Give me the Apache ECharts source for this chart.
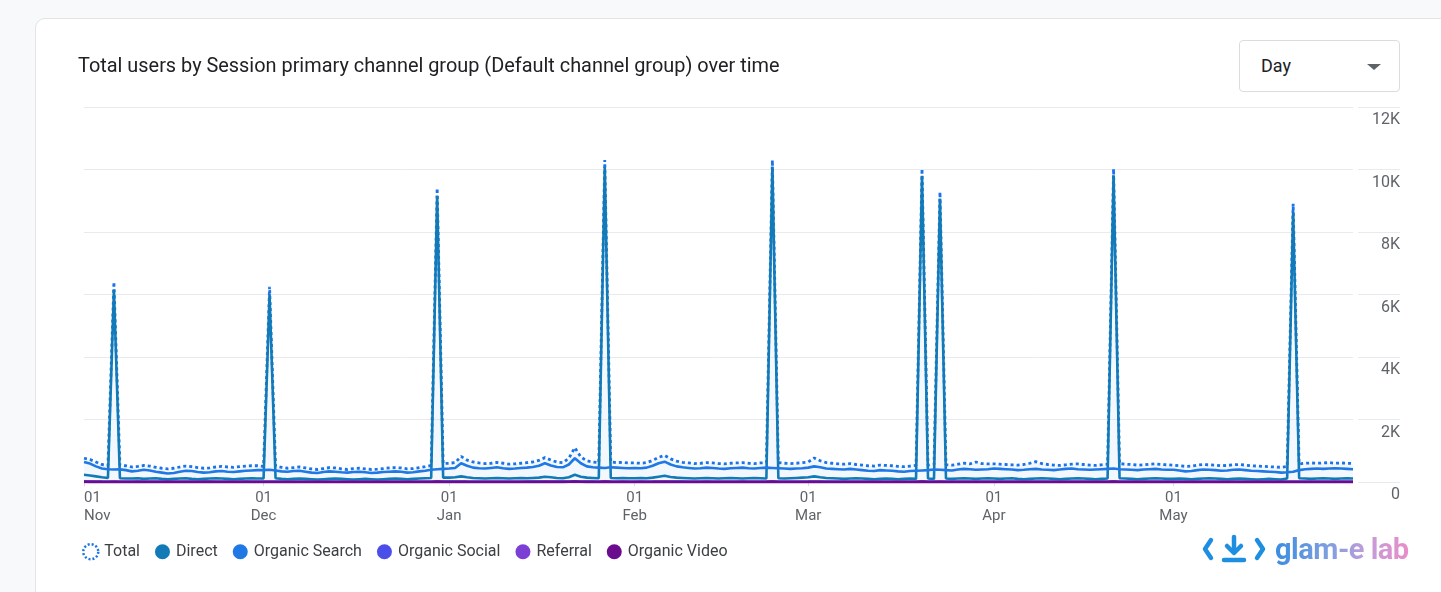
<!DOCTYPE html>
<html>
<head>
<meta charset="utf-8">
<script src="https://cdn.jsdelivr.net/npm/echarts@6/dist/echarts.min.js"></script>
<style>
  html, body { margin: 0; padding: 0; background: #f8f9fa; font-family: Roboto, "Noto Sans", sans-serif; }
  #card {
    position: absolute; left: 35px; top: 18px; width: 1440px; height: 620px;
    background: #fff; border: 1px solid #e3e3e3; border-radius: 10px;
  }
  #grafico { position: absolute; left: 0; top: 0; width: 1441px; height: 592px; }
  #periodo {
    position: absolute; left: 1239px; top: 40px; width: 161px; height: 52px;
    border: 1px solid #dadce0; border-radius: 4px; background: #fff; box-sizing: border-box;
    font-size: 18px; color: #202124; line-height: 50px; padding-left: 21px;
  }
  #periodo .flecha {
    position: absolute; left: 127px; top: 23px; width: 0; height: 0;
    border-left: 7px solid transparent; border-right: 7px solid transparent; border-top: 6px solid #5f6368;
  }
  #logo { position: absolute; left: 1202px; top: 532px; height: 34px; display: flex; align-items: center; }
  #logo .texto {
    font-size: 29px; font-weight: bold; letter-spacing: -0.5px; margin-left: 9px;
    background: linear-gradient(90deg, #3a8de2 0%, #7f9fe0 40%, #c69bd9 70%, #e88ec8 100%);
    -webkit-background-clip: text; background-clip: text; color: transparent;
  }
</style>
</head>
<body>
<div id="card"></div>
<div id="grafico"></div>
<div id="periodo">Day<span class="flecha"></span></div>
<div id="logo">
  <svg width="64" height="32" viewBox="0 0 64 32">
    <g fill="none" stroke="#1e8fe0" stroke-width="4.5" stroke-linecap="round" stroke-linejoin="round">
      <polyline points="9,7 3,16 9,25" />
      <line x1="32" y1="4" x2="32" y2="19" />
      <polyline points="25,13 32,20 39,13" />
      <line x1="22" y1="27" x2="42" y2="27" />
      <polyline points="55,7 61,16 55,25" />
    </g>
  </svg>
  <span class="texto">glam-e lab</span>
</div>

<script>
// daily values, 1 Nov 2023 - 31 May 2024 (one row per month)
const fechaInicio = '2023-11-01'
const meses = ['Jan', 'Feb', 'Mar', 'Apr', 'May', 'Jun', 'Jul', 'Aug', 'Sep', 'Oct', 'Nov', 'Dec']
const canales = ['Total', 'Direct', 'Organic Search', 'Organic Social', 'Referral', 'Organic Video']

const total = [
  760, 720, 640, 560, 530, 6400, 540, 520, 480, 500, 530, 510, 470, 440, 420, 440, 480, 510, 490, 460, 440, 450, 480, 500, 480, 470, 490, 510, 520, 520,
  500, 6250, 510, 470, 440, 460, 480, 450, 420, 400, 430, 460, 450, 420, 400, 430, 440, 420, 400, 410, 430, 450, 460, 450, 420, 430, 460, 490, 530, 9400, 590,
  600, 620, 820, 700, 640, 610, 590, 600, 630, 600, 570, 580, 600, 620, 640, 690, 780, 700, 640, 620, 760, 1100, 800, 680, 640, 620, 10300, 640, 620, 630, 610,
  610, 600, 620, 690, 790, 850, 740, 670, 630, 610, 590, 600, 620, 610, 590, 580, 600, 610, 620, 600, 590, 610, 620, 10300, 620, 600, 590, 600, 620,
  640, 770, 680, 620, 600, 580, 570, 590, 560, 540, 520, 510, 540, 530, 520, 500, 490, 510, 530, 10020, 540, 560, 9280, 550, 540, 570, 600, 580, 640, 590, 580,
  580, 570, 560, 550, 540, 560, 600, 650, 590, 560, 540, 530, 550, 570, 580, 560, 540, 530, 550, 570, 10020, 590, 570, 560, 540, 550, 570, 580, 560, 550,
  540, 520, 500, 510, 540, 560, 550, 540, 520, 530, 550, 560, 540, 520, 510, 500, 490, 480, 470, 500, 8900, 580, 600, 610, 600, 610, 620, 600, 610, 600, 590
]

const direct = [
  230, 210, 180, 150, 130, 6150, 120, 110, 110, 120, 100, 110, 120, 100, 90, 100, 110, 120, 100, 90, 100, 110, 120, 110, 100, 90, 100, 110, 120, 110,
  110, 6000, 120, 100, 90, 100, 110, 100, 90, 80, 90, 100, 110, 100, 90, 80, 90, 100, 90, 80, 90, 100, 110, 100, 90, 100, 110, 120, 130, 9150, 140,
  140, 150, 180, 150, 130, 120, 110, 120, 130, 120, 110, 120, 130, 120, 130, 140, 170, 150, 130, 120, 150, 230, 170, 140, 130, 120, 10080, 130, 120, 130, 120,
  120, 130, 120, 140, 170, 200, 160, 140, 130, 120, 110, 120, 130, 120, 110, 120, 130, 120, 110, 120, 130, 120, 110, 10080, 120, 110, 120, 130, 140,
  150, 180, 150, 130, 120, 110, 100, 110, 120, 110, 100, 90, 100, 110, 100, 90, 100, 110, 100, 9800, 110, 100, 9060, 110, 100, 110, 120, 110, 100, 110, 120,
  110, 100, 110, 120, 100, 90, 100, 110, 120, 110, 100, 90, 100, 110, 120, 110, 100, 90, 100, 110, 9800, 120, 110, 100, 90, 100, 110, 120, 110, 100,
  100, 110, 100, 90, 100, 110, 120, 110, 100, 90, 100, 110, 100, 90, 80, 90, 100, 90, 80, 110, 8640, 120, 110, 100, 110, 120, 110, 100, 110, 120, 110
]

const organicSearch = [
  640, 590, 500, 430, 410, 400, 405, 380, 340, 360, 390, 370, 330, 300, 270, 290, 330, 360, 350, 320, 300, 310, 340, 350, 330, 320, 340, 360, 370, 380,
  380, 390, 370, 340, 330, 350, 360, 330, 300, 290, 320, 340, 330, 310, 300, 320, 330, 310, 290, 300, 320, 330, 340, 330, 300, 310, 340, 360, 390, 410, 420,
  430, 450, 600, 520, 460, 440, 430, 450, 470, 440, 420, 430, 450, 460, 480, 520, 600, 530, 480, 470, 560, 760, 600, 500, 470, 460, 450, 470, 460, 450, 440,
  450, 440, 460, 520, 600, 650, 560, 500, 470, 450, 430, 440, 460, 450, 430, 420, 440, 450, 460, 440, 430, 450, 460, 450, 440, 430, 420, 430, 440,
  460, 500, 470, 430, 420, 410, 400, 420, 400, 380, 360, 350, 380, 370, 360, 340, 330, 350, 360, 370, 380, 400, 390, 380, 370, 400, 420, 410, 390, 400, 410,
  430, 420, 410, 400, 380, 390, 410, 420, 400, 390, 380, 400, 420, 430, 410, 400, 390, 400, 410, 420, 430, 410, 400, 390, 380, 400, 410, 420, 400, 390,
  390, 370, 340, 350, 380, 400, 390, 380, 360, 370, 390, 400, 380, 360, 350, 340, 330, 320, 300, 310, 330, 380, 410, 420, 430, 420, 430, 440, 430, 420, 410
]

const organicSocial = [
  30, 28, 25, 22, 20, 21, 19, 18, 20, 22, 19, 17, 18, 20, 21, 19, 18, 17, 19, 20, 22, 21, 19, 18, 17, 19, 20, 21, 19, 18,
  19, 20, 18, 17, 16, 18, 19, 17, 16, 15, 17, 18, 19, 17, 16, 15, 17, 18, 16, 15, 16, 17, 18, 16, 15, 16, 17, 19, 20, 22, 21,
  22, 23, 25, 22, 20, 19, 18, 19, 20, 19, 18, 19, 20, 21, 22, 23, 26, 24, 22, 21, 24, 30, 25, 22, 21, 20, 24, 21, 20, 21, 20,
  20, 21, 20, 22, 25, 27, 24, 22, 21, 20, 19, 20, 21, 20, 19, 18, 19, 20, 21, 20, 19, 20, 21, 24, 20, 19, 18, 19, 20,
  21, 24, 22, 20, 19, 18, 17, 18, 17, 16, 15, 16, 17, 16, 15, 14, 15, 16, 17, 22, 17, 18, 21, 17, 16, 17, 18, 17, 19, 18, 17,
  17, 16, 17, 16, 15, 16, 17, 19, 17, 16, 15, 16, 17, 18, 17, 16, 15, 16, 17, 18, 22, 18, 17, 16, 15, 16, 17, 18, 17, 16,
  16, 15, 14, 15, 16, 17, 16, 15, 14, 15, 16, 17, 16, 15, 14, 14, 13, 14, 13, 14, 20, 17, 18, 19, 18, 19, 20, 19, 18, 19, 18
]

const referral = [
  14, 13, 12, 10, 9, 11, 9, 8, 9, 10, 9, 8, 9, 10, 9, 8, 9, 8, 9, 10, 9, 8, 9, 10, 9, 8, 9, 10, 9, 8,
  9, 12, 9, 8, 7, 8, 9, 8, 7, 7, 8, 9, 8, 7, 8, 7, 8, 9, 8, 7, 8, 9, 8, 7, 6, 7, 8, 9, 10, 13, 11,
  11, 10, 12, 11, 10, 9, 10, 11, 10, 9, 10, 11, 10, 11, 12, 11, 13, 12, 11, 10, 12, 15, 12, 11, 10, 11, 14, 11, 10, 11, 10,
  10, 11, 10, 11, 12, 13, 12, 11, 10, 11, 10, 9, 10, 11, 10, 9, 10, 11, 10, 9, 10, 11, 10, 14, 11, 10, 9, 10, 11,
  11, 12, 11, 10, 9, 10, 9, 8, 9, 10, 9, 8, 9, 8, 9, 8, 9, 8, 9, 13, 9, 10, 12, 9, 8, 9, 10, 9, 10, 9, 10,
  9, 10, 9, 8, 9, 10, 9, 10, 9, 8, 9, 10, 9, 8, 9, 10, 9, 8, 9, 10, 13, 10, 9, 8, 9, 10, 9, 8, 9, 10,
  9, 8, 9, 8, 9, 10, 9, 8, 9, 8, 9, 10, 9, 8, 9, 8, 7, 8, 7, 8, 12, 10, 9, 10, 9, 10, 11, 10, 9, 10, 9
]

const organicVideo = [
  4, 3, 3, 2, 2, 3, 2, 2, 3, 2, 2, 3, 2, 2, 3, 2, 2, 3, 2, 2, 3, 2, 2, 3, 2, 2, 3, 2, 2, 3,
  2, 4, 2, 2, 3, 2, 2, 3, 2, 2, 3, 2, 2, 3, 2, 2, 3, 2, 2, 3, 2, 2, 3, 2, 2, 3, 2, 2, 3, 5, 3,
  3, 3, 4, 3, 3, 2, 3, 3, 2, 3, 3, 2, 3, 3, 3, 3, 4, 3, 3, 3, 4, 5, 4, 3, 3, 3, 5, 3, 3, 3, 3,
  3, 3, 3, 3, 4, 4, 3, 3, 3, 3, 2, 3, 3, 3, 2, 3, 3, 3, 2, 3, 3, 3, 2, 5, 3, 3, 2, 3, 3,
  3, 4, 3, 3, 2, 3, 2, 2, 3, 2, 2, 3, 2, 2, 3, 2, 2, 3, 2, 5, 2, 3, 4, 2, 2, 3, 2, 3, 3, 3, 3,
  3, 2, 3, 2, 2, 3, 2, 3, 3, 2, 2, 3, 2, 2, 3, 2, 2, 3, 2, 3, 5, 3, 2, 2, 3, 2, 2, 3, 2, 2,
  2, 2, 3, 2, 2, 3, 2, 2, 3, 2, 2, 3, 2, 2, 3, 2, 2, 3, 2, 2, 4, 3, 3, 3, 3, 3, 3, 3, 3, 3, 3
]

const colores = ['#1a73e8', '#137ab8', '#1f78e3', '#4b4ee8', '#7b3fd6', '#6b0c8f']

// categorias del eje x: un dia por valor
let dias = []
let d0 = new Date(fechaInicio + 'T00:00:00Z')
for (let i = 0; i < total.length; i++) {
  let d = new Date(d0.getTime() + i * 86400000)
  dias.push(d.toISOString().slice(0, 10))
}

const esPrimero = (idx, val) => val.slice(8) === '01'

let myChart = echarts.init(document.getElementById('grafico'))

function linea(nombre, datos, color, ancho, extra) {
  return Object.assign({
    name: nombre,
    type: 'line',
    data: datos,
    symbol: 'none',
    itemStyle: { color: color },
    lineStyle: { color: color, width: ancho },
    emphasis: { disabled: true }
  }, extra || {})
}

let option = {
  animation: false,
  textStyle: { fontFamily: 'Roboto' },
  title: {
    text: 'Total users by Session primary channel group (Default channel group) over time',
    left: 73,
    top: 52,
    textStyle: { fontSize: 19.9, fontWeight: 'normal', color: '#202124', fontFamily: 'Roboto' }
  },
  legend: {
    left: 77,
    top: 538,
    icon: 'circle',
    itemWidth: 15,
    itemHeight: 15,
    itemGap: 15,
    textStyle: { fontSize: 16, color: '#3c4043', padding: [0, 0, 0, 1] },
    data: [
      { name: 'Total', itemStyle: { color: '#fff', borderColor: '#1a73e8', borderWidth: 2.5, borderType: [2, 2] } },
      'Direct', 'Organic Search', 'Organic Social', 'Referral', 'Organic Video'
    ]
  },
  grid: [
    { left: 84, right: 88, top: 107, bottom: 110 },
    { left: 1358, right: 41, top: 107, bottom: 110 }
  ],
  xAxis: [
    {
      type: 'category',
      data: dias,
      boundaryGap: false,
      axisLine: { show: false },
      axisTick: { show: true, interval: esPrimero, length: 4, lineStyle: { color: '#dadce0' } },
      axisLabel: {
        interval: esPrimero,
        showMinLabel: true,
        alignMinLabel: 'left',
        formatter: val => '01\n' + meses[parseInt(val.slice(5, 7)) - 1],
        color: '#5f6368',
        fontSize: 15,
        lineHeight: 18,
        margin: 7
      }
    },
    { gridIndex: 1, type: 'value', show: false, min: 0, max: 1 }
  ],
  yAxis: [
    {
      type: 'value',
      position: 'right',
      min: 0,
      max: 12000,
      interval: 2000,
      axisLine: { show: false },
      axisTick: { show: false },
      axisLabel: {
        formatter: v => (v === 0 ? '0' : v / 1000 + 'K'),
        align: 'right',
        verticalAlign: 'top',
        padding: [5, 0, 0, 0],
        margin: 47,
        color: '#5f6368',
        fontSize: 16
      },
      splitLine: { lineStyle: { color: '#e8eaed' } }
    },
    {
      gridIndex: 1,
      type: 'value',
      min: 0,
      max: 12000,
      interval: 2000,
      axisLine: { show: false },
      axisTick: { show: false },
      axisLabel: { show: false },
      splitLine: { lineStyle: { color: '#e8eaed' } }
    }
  ],
  series: [
    linea(canales[0], total, colores[0], 2.8, {
      lineStyle: { color: colores[0], width: 2.8, type: [3, 3] },
      areaStyle: { color: 'rgba(26,115,232,0.07)' }
    }),
    linea(canales[1], direct, colores[1], 2.6),
    linea(canales[2], organicSearch, colores[2], 2.6),
    linea(canales[3], organicSocial, colores[3], 2),
    linea(canales[4], referral, colores[4], 2),
    linea(canales[5], organicVideo, colores[5], 3)
  ]
}

myChart.setOption(option)
</script>
</body>
</html>
